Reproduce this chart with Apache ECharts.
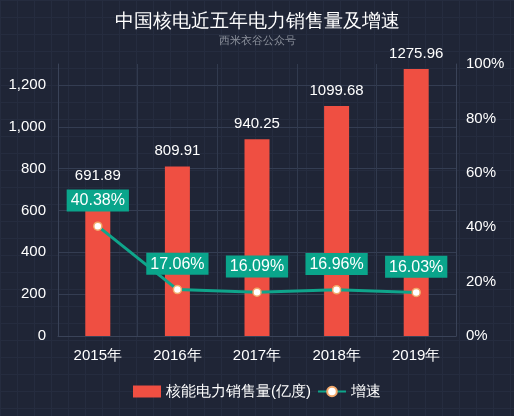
<!DOCTYPE html>
<html>
<head>
<meta charset="utf-8">
<script src="https://cdn.jsdelivr.net/npm/echarts@6/dist/echarts.min.js"></script>
<style>html,body{margin:0;padding:0;background:#1f2536;}#main{width:514px;height:416px;}</style>
</head>
<body>
<div id="main"></div>
<script>
var years = ['2015年', '2016年', '2017年', '2018年', '2019年'];
var sales = [691.89, 809.91, 940.25, 1099.68, 1275.96];
var growth = [40.38, 17.06, 16.09, 16.96, 16.03];
var leftTicks = { min: 0, max: 1300, interval: 200 };
var rightTicks = { min: 0, max: 100, interval: 20 };

// 背景网格图案
var pat = document.createElement('canvas');
pat.width = 17; pat.height = 17;
var ctx = pat.getContext('2d');
ctx.fillStyle = '#1f2536';
ctx.fillRect(0, 0, 17, 17);
ctx.fillStyle = '#252c3f';
ctx.fillRect(0, 0, 17, 1);
ctx.fillRect(0, 0, 1, 17);

var myChart = echarts.init(document.getElementById('main'));
var axisColor = '#3a4358';
var option = {
    backgroundColor: { image: pat, repeat: 'repeat' },
    title: {
        text: '中国核电近五年电力销售量及增速',
        subtext: '西米衣谷公众号',
        left: 'center',
        top: 7,
        itemGap: 4,
        textStyle: { color: '#ffffff', fontSize: 19, fontWeight: 'normal' },
        subtextStyle: { color: '#8a8f9a', fontSize: 11 }
    },
    legend: {
        bottom: 12,
        left: 'center',
        itemWidth: 28,
        itemHeight: 12,
        itemGap: 6,
        textStyle: { color: '#ffffff', fontSize: 15 },
        data: [
            { name: '核能电力销售量(亿度)', icon: 'rect' },
            { name: '增速' }
        ]
    },
    grid: { left: 58, right: 58, top: 64, bottom: 80 },
    xAxis: {
        type: 'category',
        data: years,
        axisLine: { lineStyle: { color: axisColor } },
        axisTick: { show: false },
        axisLabel: { color: '#ffffff', fontSize: 15, margin: 12 },
        splitLine: { show: true, lineStyle: { color: '#313a4e' } }
    },
    yAxis: [
        {
            type: 'value',
            min: leftTicks.min, max: leftTicks.max, interval: leftTicks.interval,
            axisLine: { show: true, lineStyle: { color: axisColor } },
            axisTick: { show: false },
            axisLabel: { color: '#ffffff', fontSize: 15, showMaxLabel: false, margin: 12 },
            splitLine: { show: true, showMaxLine: false, lineStyle: { color: '#343d52' } }
        },
        {
            type: 'value',
            min: rightTicks.min, max: rightTicks.max, interval: rightTicks.interval,
            axisLine: { show: true, lineStyle: { color: axisColor } },
            axisTick: { show: false },
            axisLabel: { color: '#ffffff', fontSize: 15, formatter: '{value}%', margin: 10 },
            splitLine: { show: false }
        }
    ],
    series: [
        {
            name: '核能电力销售量(亿度)',
            type: 'bar',
            barWidth: 25,
            data: sales,
            itemStyle: { color: '#ef4f42' },
            label: { show: true, position: 'top', color: '#ffffff', fontSize: 15, distance: 8 }
        },
        {
            name: '增速',
            type: 'line',
            yAxisIndex: 1,
            data: growth,
            symbol: 'circle',
            symbolSize: 8,
            z: 5,
            lineStyle: { color: '#0fa58b', width: 3 },
            itemStyle: { color: '#ffffff', borderColor: '#f2a86a', borderWidth: 1.5 },
            label: {
                show: true,
                position: 'top',
                distance: 10,
                formatter: '{c}%',
                color: '#ffffff',
                fontSize: 16,
                lineHeight: 19,
                backgroundColor: '#0aa58b',
                padding: [2, 4, 1, 4]
            }
        }
    ]
};
myChart.setOption(option);
window.onresize = myChart.resize;
</script>
</body>
</html>
